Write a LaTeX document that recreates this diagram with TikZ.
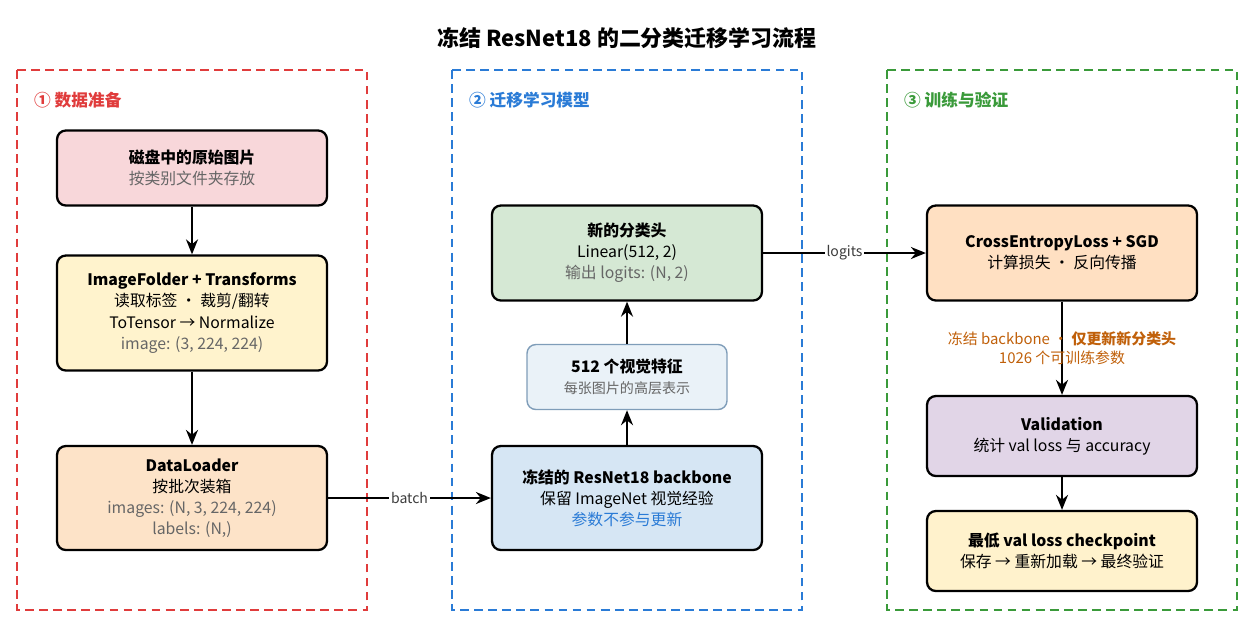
\documentclass[tikz,border=0pt]{standalone}
\usepackage{fontspec}
\setmainfont{Noto Sans CJK SC}
\usetikzlibrary{arrows.meta, positioning}
\definecolor{cred}{HTML}{E03C3C}
\definecolor{cblue}{HTML}{2A7BD6}
\definecolor{cgreen}{HTML}{3A9A3A}
\definecolor{cgrey}{HTML}{666666}
\definecolor{corange}{HTML}{C0600A}
\definecolor{fraw}{HTML}{F8D7DA}
\definecolor{ffolder}{HTML}{FFF3CD}
\definecolor{floader}{HTML}{FDE3C8}
\definecolor{fbackbone}{HTML}{D6E6F4}
\definecolor{ffeat}{HTML}{EAF2F8}
\definecolor{dfeat}{HTML}{7F9DB9}
\definecolor{fhead}{HTML}{D5E8D4}
\definecolor{floss}{HTML}{FFE0C2}
\definecolor{fval}{HTML}{E1D5E7}
\definecolor{fckpt}{HTML}{FFF2CC}
\tikzstyle{line} = [draw, -{Stealth[length=3mm,width=2.4mm]}, line width=1.2pt]
\tikzstyle{panel} = [draw, dashed, line width=1pt, dash pattern=on 5pt off 3pt]
\tikzstyle{block} = [rectangle, draw, line width=1.3pt, rounded corners=5pt,
  minimum width=5.4cm, align=center, font=\fontsize{9}{12}\selectfont]
\begin{document}
\begin{tikzpicture}[x=0.02cm, y=-0.02cm]
    \useasboundingbox (0,0) rectangle (1256,630);
    \node [font=\fontsize{12.5}{14}\selectfont\bfseries] (title) at (627,38) {冻结 ResNet18 的二分类迁移学习流程};

    % panels
    \draw [panel, cred] (17,70) rectangle (367,610);
    \draw [panel, cblue] (452,70) rectangle (802,610);
    \draw [panel, cgreen] (887,70) rectangle (1237,610);
    \node [anchor=west, cred, font=\fontsize{9.5}{11}\selectfont\bfseries] (p1) at (28,100) {① 数据准备};
    \node [anchor=west, cblue, font=\fontsize{9.5}{11}\selectfont\bfseries] (p2) at (463,100) {② 迁移学习模型};
    \node [anchor=west, cgreen, font=\fontsize{9.5}{11}\selectfont\bfseries] (p3) at (898,100) {③ 训练与验证};

    % data
    \node [block, fill=fraw, minimum height=1.5cm] (raw) at (192,168)
      {\textbf{磁盘中的原始图片}\\\textcolor{cgrey}{按类别文件夹存放}};
    \node [block, fill=ffolder, minimum height=2.3cm] (folder) at (192,313)
      {\textbf{ImageFolder + Transforms}\\读取标签 · 裁剪/翻转\\ToTensor → Normalize\\\textcolor{cgrey}{image: (3, 224, 224)}};
    \node [block, fill=floader, minimum height=2.08cm] (loader) at (192,498)
      {\textbf{DataLoader}\\按批次装箱\\\textcolor{cgrey}{images: (N, 3, 224, 224)}\\\textcolor{cgrey}{labels: (N,)}};

    % model
    \node [block, fill=fbackbone, minimum height=2.08cm] (backbone) at (627,498)
      {\textbf{冻结的 ResNet18 backbone}\\保留 ImageNet 视觉经验\\\textcolor{cblue}{参数不参与更新}};
    \node [block, fill=ffeat, draw=dfeat, line width=0.8pt, minimum width=4cm, minimum height=1.3cm] (feat) at (627,377)
      {\textbf{512 个视觉特征}\\\textcolor{cgrey}{\fontsize{8}{10}\selectfont 每张图片的高层表示}};
    \node [block, fill=fhead, minimum height=1.9cm] (head) at (627,253)
      {\textbf{新的分类头}\\Linear(512, 2)\\\textcolor{cgrey}{输出 logits: (N, 2)}};

    % training
    \node [block, fill=floss, minimum height=1.9cm] (loss) at (1062,253)
      {\textbf{CrossEntropyLoss + SGD}\\计算损失 · 反向传播};
    \node [block, fill=fval, minimum height=1.6cm] (val) at (1062,436)
      {\textbf{Validation}\\统计 val loss 与 accuracy};
    \node [block, fill=fckpt, minimum height=1.6cm] (ckpt) at (1062,551)
      {\textbf{最低 val loss checkpoint}\\保存 → 重新加载 → 最终验证};

    \path [line] (raw) -- (folder);
    \path [line] (folder) -- (loader);
    \path [line] (loader) -- node [fill=white, inner sep=1pt, font=\fontsize{8}{10}\selectfont, text=cgrey!60!black] {batch} (backbone);
    \path [line] (backbone) -- (feat);
    \path [line] (feat) -- (head);
    \path [line] (head) -- node [fill=white, inner sep=1pt, font=\fontsize{8}{10}\selectfont, text=cgrey!60!black] {logits} (loss);
    \path [line] (loss) -- node [align=center, text=corange, font=\fontsize{8.5}{10.5}\selectfont] {冻结 backbone · \textbf{仅更新新分类头}\\1026 个可训练参数} (val);
    \path [line] (val) -- (ckpt);
\end{tikzpicture}
\end{document}
